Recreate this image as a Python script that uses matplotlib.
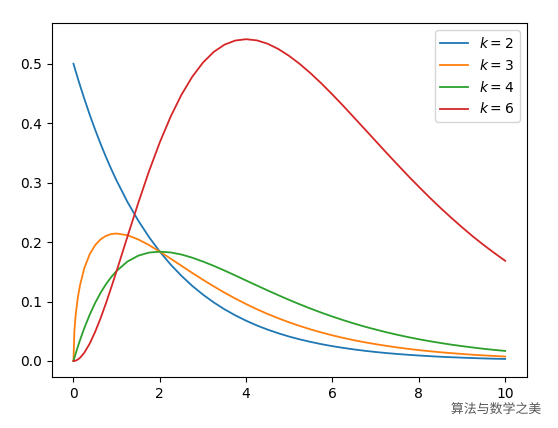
import matplotlib
matplotlib.use('Agg')
import matplotlib.pyplot as plt
import matplotlib.patheffects as pe

# values
x = [0, 0.02, 0.05, 0.1, 0.15, 0.25, 0.375, 0.5, 0.625, 0.75, 0.875, 1, 1.25, 1.5, 1.75,
     2, 2.25, 2.5, 2.75, 3, 3.25, 3.5, 3.75, 4, 4.25, 4.5, 4.75, 5, 5.25, 5.5, 5.75,
     6, 6.25, 6.5, 6.75, 7, 7.25, 7.5, 7.75, 8, 8.25, 8.5, 8.75, 9, 9.25, 9.5, 9.75, 10]

k2 = [0.5, 0.495, 0.4877, 0.4756, 0.4639, 0.4413, 0.4145, 0.3894, 0.3658, 0.3436, 0.3228,
      0.3033, 0.2676, 0.2362, 0.2084, 0.1839, 0.1623, 0.1433, 0.1264, 0.1116, 0.0985,
      0.0869, 0.0767, 0.0677, 0.0597, 0.0527, 0.0465, 0.0410, 0.0362, 0.0320, 0.0282,
      0.0249, 0.0220, 0.0194, 0.0171, 0.0151, 0.0133, 0.0118, 0.0104, 0.0092, 0.0081,
      0.0071, 0.0063, 0.0056, 0.0049, 0.0043, 0.0038, 0.0034]

k3 = [0, 0.0495, 0.0771, 0.1063, 0.1270, 0.1560, 0.1795, 0.1947, 0.2045, 0.2104, 0.2135,
      0.2144, 0.2116, 0.2045, 0.1950, 0.1839, 0.1722, 0.1602, 0.1482, 0.1366, 0.1255,
      0.1149, 0.1050, 0.0957, 0.0870, 0.0790, 0.0717, 0.0649, 0.0587, 0.0530, 0.0478,
      0.0431, 0.0388, 0.0349, 0.0314, 0.0283, 0.0254, 0.0228, 0.0204, 0.0183, 0.0164,
      0.0147, 0.0132, 0.0118, 0.0105, 0.0094, 0.0084, 0.0075]

k4 = [0, 0.0050, 0.0122, 0.0238, 0.0348, 0.0552, 0.0777, 0.0974, 0.1143, 0.1289, 0.1412,
      0.1516, 0.1673, 0.1771, 0.1824, 0.1839, 0.1826, 0.1791, 0.1738, 0.1673, 0.1600,
      0.1521, 0.1438, 0.1353, 0.1269, 0.1186, 0.1105, 0.1026, 0.0951, 0.0879, 0.0811,
      0.0747, 0.0687, 0.0630, 0.0577, 0.0529, 0.0483, 0.0441, 0.0402, 0.0366, 0.0333,
      0.0303, 0.0275, 0.0250, 0.0227, 0.0205, 0.0186, 0.0169]

k6 = [0, 0.0001, 0.0006, 0.0024, 0.0052, 0.0138, 0.0291, 0.0487, 0.0714, 0.0966, 0.1236,
      0.1516, 0.2091, 0.2657, 0.3192, 0.3679, 0.4109, 0.4477, 0.4780, 0.5020, 0.5200,
      0.5322, 0.5391, 0.5413, 0.5393, 0.5336, 0.5246, 0.5130, 0.4992, 0.4835, 0.4664,
      0.4481, 0.4291, 0.4095, 0.3898, 0.3700, 0.3502, 0.3308, 0.3116, 0.2931, 0.2750,
      0.2576, 0.2410, 0.2250, 0.2096, 0.1952, 0.1816, 0.1685]

series = [(k2, '$k=2$'), (k3, '$k=3$'), (k4, '$k=4$'), (k6, '$k=6$')]

fig = plt.figure(figsize=(5.58, 4.28), dpi=100)
ax = fig.add_axes([0.093, 0.119, 0.851, 0.827])

for ys, lab in series:
    ax.plot(x, ys, label=lab, lw=1.3)

ax.legend(loc='upper right')

# watermark
fig.text(0.808, 0.043, '算法与数学之美', ha='left', va='center', fontsize=9.3,
         color='#555555', family=['Noto Sans CJK SC', 'DejaVu Sans'],
         path_effects=[pe.withStroke(linewidth=2, foreground='white')])

fig.savefig('out.png', dpi=100)
